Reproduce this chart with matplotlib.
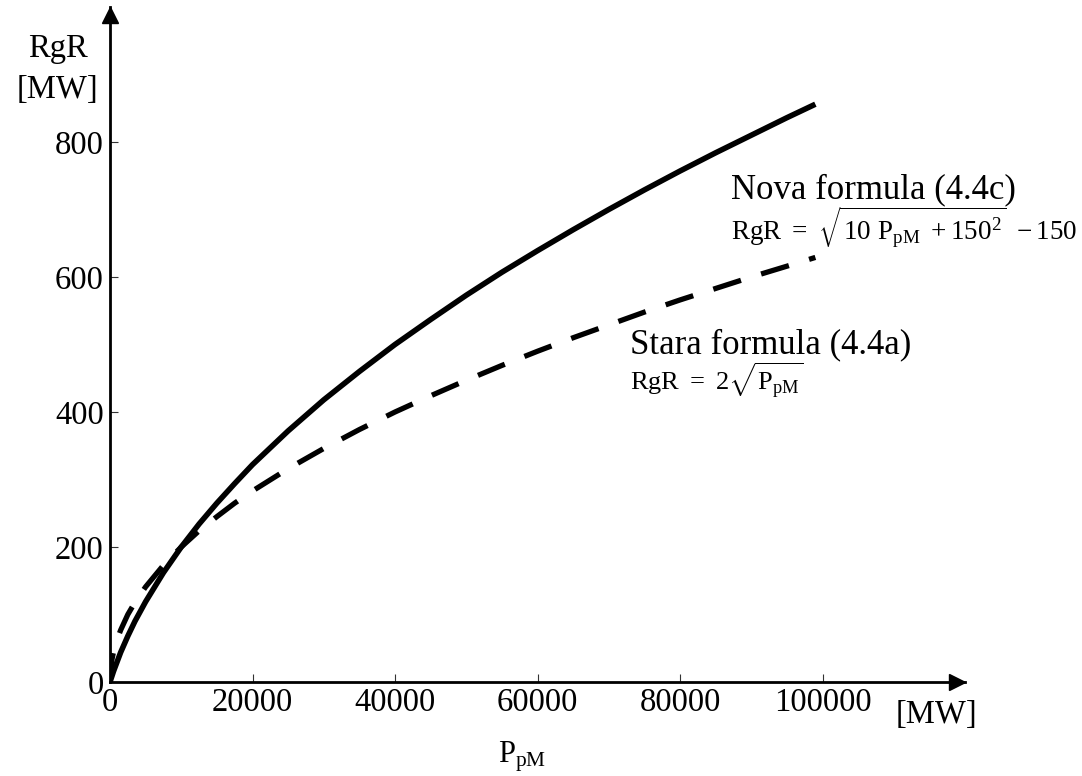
import matplotlib
matplotlib.use("Agg")
import matplotlib.pyplot as plt

plt.rcParams['font.family'] = ['Liberation Serif', 'DejaVu Serif']
plt.rcParams['mathtext.fontset'] = 'custom'
plt.rcParams['mathtext.rm'] = 'Liberation Serif'
plt.rcParams['mathtext.it'] = 'Liberation Serif'
plt.rcParams['mathtext.bf'] = 'Liberation Serif'
plt.rcParams['mathtext.default'] = 'regular'

# Data
p_pm = [0, 250, 500, 1000, 1500, 2500, 3500, 5000, 7500, 10000, 12500, 15000,
        17500, 20000, 25000, 30000, 35000, 40000, 45000, 50000, 55000, 60000,
        65000, 70000, 75000, 80000, 85000, 90000, 95000, 99000]
rgr_nova = [0, 8, 16, 30, 44, 68, 90, 119, 162, 200, 234, 265,
            294, 322, 372, 418, 460, 500, 537, 573, 607, 639,
            670, 700, 729, 757, 784, 810, 836, 856]
rgr_stara = [0, 32, 45, 63, 77, 100, 118, 141, 173, 200, 224, 245,
             265, 283, 316, 346, 374, 400, 424, 447, 469, 490,
             510, 529, 548, 566, 583, 600, 616, 629]

x_ticks = [0, 20000, 40000, 60000, 80000, 100000]
y_ticks = [0, 200, 400, 600, 800]

W, H = 1082, 776
fig = plt.figure(figsize=(W / 100, H / 100), dpi=100)
ax = fig.add_axes([110 / W, (H - 682) / H, 855 / W, 675 / H])

ax.plot(p_pm, rgr_nova, color='black', lw=4, solid_capstyle='butt', solid_joinstyle='round')
ax.plot(p_pm, rgr_stara, color='black', lw=3.8, dashes=(5.5, 4))

ax.set_xlim(0, 120000)
ax.set_ylim(0, 1000)
ax.set_xticks(x_ticks)
ax.set_xticklabels([str(v) for v in x_ticks])
ax.set_yticks(y_ticks)
ax.set_yticklabels([str(v) for v in y_ticks])
ax.tick_params(direction='in', length=6, width=0.8, labelsize=23.5, color='#333333')
ax.tick_params(axis='x', pad=4)
ax.tick_params(axis='y', pad=4.5)

for s in ['top', 'right']:
    ax.spines[s].set_visible(False)
for s in ['left', 'bottom']:
    ax.spines[s].set_linewidth(2)

# Arrow heads
ax.plot(1 - 8 / 855, 0, marker='>', color='black', ms=11.5, transform=ax.transAxes, clip_on=False)
ax.plot(0, 1 - 8 / 675, marker='^', color='black', ms=11.5, transform=ax.transAxes, clip_on=False)

# Axis labels
fig.text(57.5 / W, 1 - 56.7 / H, 'RgR', ha='center', va='baseline', fontsize=23.5)
fig.text(57.5 / W, 1 - 98 / H, '[MW]', ha='center', va='baseline', fontsize=23.5)
fig.text(896 / W, 1 - 723 / H, '[MW]', ha='left', va='baseline', fontsize=23.5)
fig.text(498 / W, 1 - 763 / H, r'$P_{pM}$', ha='left', va='baseline', fontsize=22)

# Annotations
fig.text(730.7 / W, 1 - 198.3 / H, 'Nova formula (4.4c)', ha='left', va='baseline', fontsize=25)
fig.text(730.7 / W, 1 - 240 / H, r'$RgR\ =\ \sqrt{10\ P_{pM}\ +150^{2}}\ -150$',
         ha='left', va='baseline', fontsize=19.5)
fig.text(630 / W, 1 - 353.3 / H, 'Stara formula (4.4a)', ha='left', va='baseline', fontsize=25)
fig.text(630 / W, 1 - 390 / H, r'$RgR\ =\ 2\sqrt{P_{pM}}$', ha='left', va='baseline', fontsize=19)

fig.savefig('out.png', dpi=100)
